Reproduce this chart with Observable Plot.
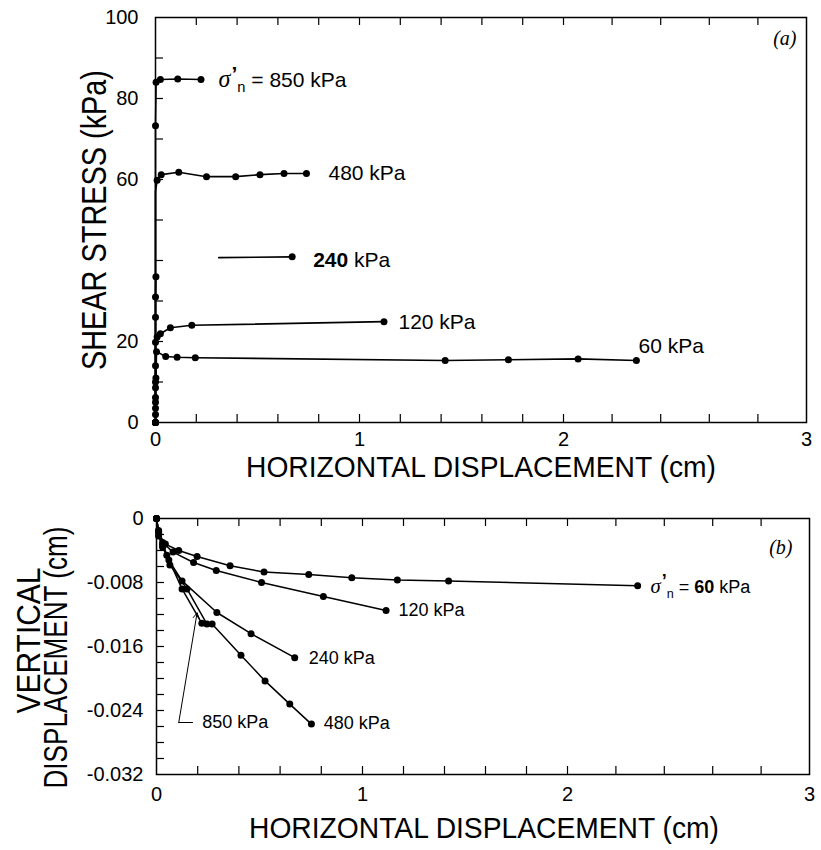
<!DOCTYPE html>
<html><head><meta charset="utf-8">
<script src="https://cdn.jsdelivr.net/npm/d3@7"></script>
<script src="https://cdn.jsdelivr.net/npm/@observablehq/plot@0.6"></script>
<style>
body{margin:0;background:#fff;}
#chart{width:821px;height:850px;}
#chart svg{display:block;}
</style></head><body><div id="chart"></div>
<script>
// ---------------- data ----------------
const xTickLabels = [0, 1, 2, 3];
const xMinorTicks = [0.2, 0.4, 0.6, 0.8, 1.0, 1.2, 1.4, 1.6, 1.8, 2.0, 2.2, 2.4, 2.6, 2.8];
const shearTickLabels = [0, 20, 60, 80, 100];
const shearMinorTicks = [10, 20, 30, 40, 50, 60, 70, 80, 90];
const vertTickLabels = [0, -0.008, -0.016, -0.024, -0.032];
const vertMinorTicks = [-0.002, -0.004, -0.006, -0.008, -0.010, -0.012, -0.014, -0.016, -0.018, -0.020, -0.022, -0.024, -0.026, -0.028, -0.030];

// (a) shear stress (kPa) vs horizontal displacement (cm)
const shear60X = [0, 0, 0, 0, 0, 0, 0.002, 0.005, 0.05, 0.106, 0.195, 1.42, 1.73, 2.06, 2.30];
const shear60Y = [0, 2, 3.5, 5, 6.2, 8.6, 11, 17.5, 16.3, 16.1, 16.0, 15.3, 15.5, 15.7, 15.3];
const shear120X = [0, 0, 0, 0.008, 0.024, 0.073, 0.178, 1.12];
const shear120Y = [0, 10, 19.8, 21.1, 21.9, 23.4, 24.0, 24.9];
const shear240X = [0, 0, 0, 0, 0.002, 0.31, 0.67];
const shear240Y = [0, 14, 26, 31, 36, 40.7, 40.9];
const shear240Seg = [0, 0, 0, 0, 0, 1, 1];
const shear240Dot = [1, 1, 1, 1, 1, 0, 1];
const shear480X = [0, 0, 0.008, 0.028, 0.114, 0.25, 0.393, 0.512, 0.63, 0.74];
const shear480Y = [0, 57, 59.8, 61.2, 61.8, 60.7, 60.7, 61.2, 61.5, 61.5];
const shear480Dot = [1, 0, 1, 1, 1, 1, 1, 1, 1, 1];
const shear850X = [0, 0, 0.003, 0.024, 0.109, 0.223];
const shear850Y = [0, 73.3, 84.0, 84.7, 84.8, 84.7];

// (b) vertical displacement (cm) vs horizontal displacement (cm)
const vert60X = [0, 0.011, 0.043, 0.108, 0.197, 0.357, 0.522, 0.739, 0.948, 1.17, 1.42, 2.29];
const vert60Y = [0, -0.0019, -0.0032, -0.0040, -0.00475, -0.0059, -0.0067, -0.0070, -0.0074, -0.0077, -0.0078, -0.0084];
const vert120X = [0, 0.01, 0.03, 0.08, 0.18, 0.29, 0.51, 0.81, 1.115];
const vert120Y = [0, -0.0015, -0.0030, -0.0042, -0.0055, -0.0065, -0.0080, -0.00975, -0.0115];
const vert240X = [0, 0.01, 0.03, 0.06, 0.124, 0.293, 0.459, 0.671];
const vert240Y = [0, -0.0016, -0.0032, -0.0052, -0.0078, -0.01175, -0.0144, -0.0174];
const vert480X = [0, 0.01, 0.03, 0.065, 0.148, 0.245, 0.27, 0.41, 0.527, 0.647, 0.752];
const vert480Y = [0, -0.0016, -0.0034, -0.0058, -0.0088, -0.0132, -0.0132, -0.0171, -0.0203, -0.0232, -0.0257];
const vert850X = [0, 0.01, 0.03, 0.05, 0.124, 0.22];
const vert850Y = [0, -0.0022, -0.0036, -0.0046, -0.0088, -0.0131];

// annotations
const shearLabelText = ["σ'n = 850 kPa", "480 kPa", "**240** kPa", "120 kPa", "60 kPa"];
const shearLabelX = [0.309, 0.848, 0.773, 1.191, 2.309];
const shearLabelY = [84.4, 61.5, 40.0, 24.7, 18.8];
const vertLabelText = ["σ'n = **60** kPa", "120 kPa", "240 kPa", "480 kPa", "850 kPa"];
const vertLabelX = [2.343, 1.175, 0.739, 0.812, 0.222];
const vertLabelY = [-0.0086, -0.0115, -0.0175, -0.0256, -0.0255];
const leaderX = [0.175, 0.108];
const leaderY = [-0.0255, -0.0255];
const arrowFrom = {x: 0.108, y: -0.0255};
const arrowTo = {x: 0.197, y: -0.0118};

// ---------------- build ----------------
function rows(level, xs, ys, segs, dots) {
  return xs.map((x, i) => ({level, x, y: ys[i], seg: level + "-" + (segs ? segs[i] : 0), dot: dots ? dots[i] : 1}));
}
const shearRows = [
  ...rows("60", shear60X, shear60Y),
  ...rows("120", shear120X, shear120Y),
  ...rows("240", shear240X, shear240Y, shear240Seg, shear240Dot),
  ...rows("480", shear480X, shear480Y, null, shear480Dot),
  ...rows("850", shear850X, shear850Y)
];
const vertRows = [
  ...rows("60", vert60X, vert60Y),
  ...rows("120", vert120X, vert120Y),
  ...rows("240", vert240X, vert240Y),
  ...rows("480", vert480X, vert480Y),
  ...rows("850", vert850X, vert850Y)
];
const shearLabels = shearLabelText.map((t, i) => ({t, x: shearLabelX[i], y: shearLabelY[i]}));
const vertLabels = vertLabelText.map((t, i) => ({t, x: vertLabelX[i], y: vertLabelY[i]}));
const leader = leaderX.map((x, i) => ({x, y: leaderY[i]}));

const FONT = "'Liberation Sans', Arial, Helvetica, sans-serif";
const SERIF = "'Liberation Serif', 'Times New Roman', serif";

// top panel geometry
const T = {w: 821, h: 475, l: 155, r: 15, t: 17, b: 53};
const TW = T.w - T.l - T.r, TH = T.h - T.t - T.b;
const topPlot = Plot.plot({
  width: T.w, height: T.h,
  marginLeft: T.l, marginRight: T.r, marginTop: T.t, marginBottom: T.b,
  style: {fontFamily: FONT, fontSize: "20px", color: "black", background: "white", overflow: "visible"},
  x: {type: "linear", domain: xTickLabels, range: [155, 359, 563, 806]},
  y: {domain: [0, 100]},
  marks: [
    Plot.line(shearRows, {x: "x", y: "y", z: "seg", stroke: "black", strokeWidth: 1.6}),
    Plot.dot(shearRows.filter(d => d.dot), {x: "x", y: "y", r: 3.5, fill: "black"}),
    Plot.frame({stroke: "black", strokeWidth: 1.5}),
    Plot.tickX(xMinorTicks, {x: d => d, insetTop: TH - 8, stroke: "black", strokeWidth: 1.2}),
    Plot.tickX(xMinorTicks, {x: d => d, insetBottom: TH - 8, stroke: "black", strokeWidth: 1.2}),
    Plot.tickY(shearMinorTicks, {y: d => d, insetRight: TW - 8, stroke: "black", strokeWidth: 1.2}),
    Plot.axisX(xTickLabels, {tickSize: 0, tickPadding: 9, fontSize: 20, label: null, tickFormat: d => String(d)}),
    Plot.axisY(shearTickLabels, {tickSize: 0, tickPadding: 17, fontSize: 20, label: null, tickFormat: d => String(d)}),
    Plot.text(shearLabels, {x: "x", y: "y", text: "t", textAnchor: "start", lineAnchor: "middle", fontSize: 21}),
    Plot.text(["HORIZONTAL DISPLACEMENT (cm)"], {frameAnchor: "bottom", text: d => d, textAnchor: "middle", lineAnchor: "middle", dx: 0, dy: 45, fontSize: 29}),
    Plot.text(["SHEAR STRESS (kPa)"], {frameAnchor: "left", text: d => d, textAnchor: "middle", lineAnchor: "middle", rotate: -90, dx: -61, dy: 0, fontSize: 35}),
    Plot.text(["(a)"], {frameAnchor: "top-right", text: d => d, textAnchor: "end", lineAnchor: "middle", dx: -10, dy: 21, fontSize: 20, fontStyle: "italic", fontFamily: SERIF})
  ]
});

// bottom panel geometry
const B = {w: 821, h: 375, l: 156, r: 12, t: 43, b: 76};
const BW = B.w - B.l - B.r, BH = B.h - B.t - B.b;
const bottomPlot = Plot.plot({
  width: B.w, height: B.h,
  marginLeft: B.l, marginRight: B.r, marginTop: B.t, marginBottom: B.b,
  style: {fontFamily: FONT, fontSize: "20px", color: "black", background: "white", overflow: "visible"},
  x: {type: "linear", domain: xTickLabels, range: [156, 362, 567, 809]},
  y: {domain: [-0.032, 0]},
  marks: [
    Plot.line(vertRows, {x: "x", y: "y", z: "seg", stroke: "black", strokeWidth: 1.5}),
    Plot.dot(vertRows.filter(d => d.dot), {x: "x", y: "y", r: 3.5, fill: "black"}),
    Plot.line(leader, {x: "x", y: "y", stroke: "black", strokeWidth: 1}),
    Plot.arrow([{}], {x1: () => arrowFrom.x, y1: () => arrowFrom.y, x2: () => arrowTo.x, y2: () => arrowTo.y, stroke: "black", strokeWidth: 1, headLength: 9}),
    Plot.frame({stroke: "black", strokeWidth: 1.5}),
    Plot.tickX(xMinorTicks, {x: d => d, insetTop: BH - 8, stroke: "black", strokeWidth: 1.2}),
    Plot.tickX(xMinorTicks, {x: d => d, insetBottom: BH - 8, stroke: "black", strokeWidth: 1.2}),
    Plot.tickY(vertMinorTicks, {y: d => d, insetRight: BW - 8, stroke: "black", strokeWidth: 1.2}),
    Plot.axisX(xTickLabels, {tickSize: 0, tickPadding: 12, fontSize: 20, label: null, tickFormat: d => String(d)}),
    Plot.axisY(vertTickLabels, {tickSize: 0, tickPadding: 13, fontSize: 20, label: null, tickFormat: d => d === 0 ? "0" : d.toFixed(3)}),
    Plot.text(vertLabels, {x: "x", y: "y", text: "t", textAnchor: "start", lineAnchor: "middle", fontSize: 18}),
    Plot.text(["HORIZONTAL DISPLACEMENT (cm)"], {frameAnchor: "bottom", text: d => d, textAnchor: "middle", lineAnchor: "middle", dx: 1, dy: 54, fontSize: 29}),
    Plot.text(["VERTICAL"], {frameAnchor: "left", text: d => d, textAnchor: "middle", lineAnchor: "middle", rotate: -90, dx: -127, dy: -6, fontSize: 34}),
    Plot.text(["DISPLACEMENT (cm)"], {frameAnchor: "left", text: d => d, textAnchor: "middle", lineAnchor: "middle", rotate: -90, dx: -100, dy: 11, fontSize: 34}),
    Plot.text(["(b)"], {frameAnchor: "top-right", text: d => d, textAnchor: "end", lineAnchor: "middle", dx: -17, dy: 29, fontSize: 20, fontStyle: "italic", fontFamily: SERIF})
  ]
});

// ---------------- text post-processing ----------------
const titleLength = {"HORIZONTAL DISPLACEMENT (cm)": 470, "SHEAR STRESS (kPa)": 300, "VERTICAL": 146, "DISPLACEMENT (cm)": 262};
function finish(svg) {
  const s = d3.select(svg);
  s.selectAll("text").each(function () {
    const txt = this.textContent;
    const el = d3.select(this);
    if (titleLength[txt]) {
      el.attr("textLength", titleLength[txt]).attr("lengthAdjust", "spacingAndGlyphs");
      return;
    }
    if (!(txt.startsWith("σ'n") || txt.includes("**"))) return;
    let rest = txt;
    el.text(null);
    let sigma = false;
    if (rest.startsWith("σ'n")) {
      sigma = true;
      el.append("tspan").attr("font-family", SERIF).attr("font-style", "italic").attr("font-size", "1.15em").text("σ");
      el.append("tspan").attr("font-weight", "bold").attr("dx", 1).attr("dy", -6).text("’");
      el.append("tspan").attr("font-size", "0.7em").attr("dx", 0).attr("dy", 11).text("n");
      rest = rest.slice(3);
    }
    rest.split("**").forEach((p, i) => {
      if (!p) return;
      const t = el.append("tspan").text(p);
      if (i % 2 === 1) t.attr("font-weight", "bold");
      if (sigma) { t.attr("dy", -5); sigma = false; }
    });
  });
  return svg;
}
const chart = document.getElementById("chart");
chart.appendChild(finish(topPlot));
chart.appendChild(finish(bottomPlot));
</script>
</body></html>
